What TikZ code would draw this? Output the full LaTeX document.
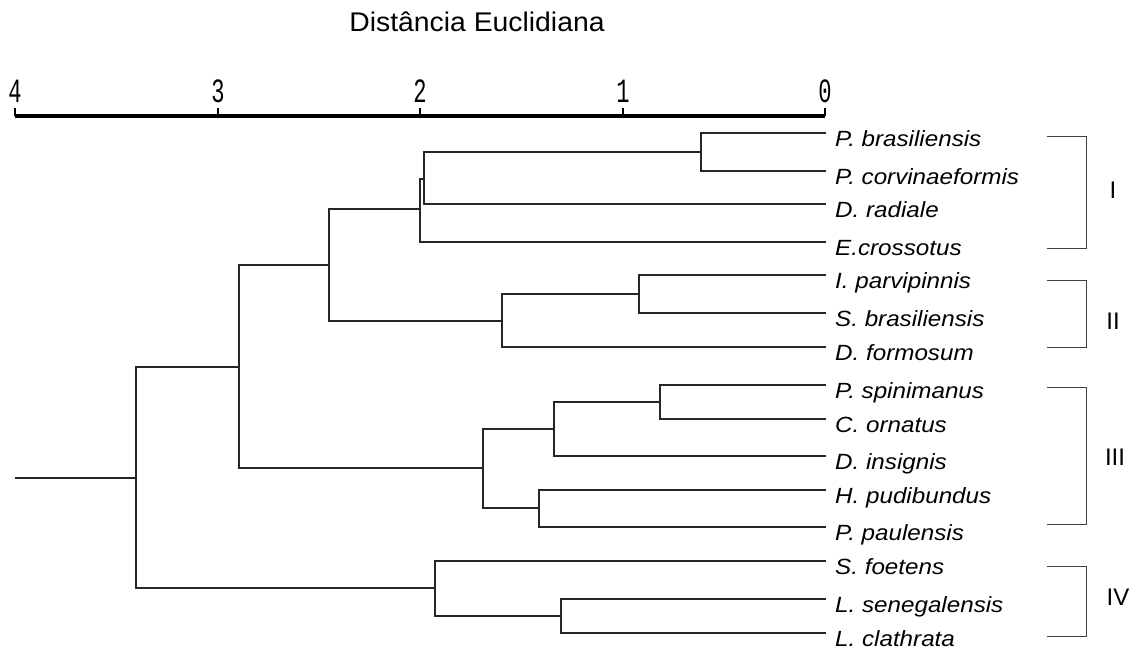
\documentclass[tikz,border=0pt]{standalone}
\usepackage{fontspec}
\usetikzlibrary{calc}
\setmainfont{Liberation Sans}
\newfontfamily\labfont[FakeStretch=1.1]{Liberation Sans}
\newfontfamily\titlefont[FakeStretch=1.05]{Liberation Sans}
\newfontfamily\numfont{Liberation Mono}
\begin{document}
\begin{tikzpicture}[x=1pt,y=-1pt,
  tree/.style={line width=1.4pt, draw=black!85},
  brk/.style={line width=1pt, draw=black!75},
  lab/.style={anchor=base west, inner sep=0pt, font=\labfont\itshape\fontsize{22}{22}\selectfont},
  grp/.style={inner sep=0pt, font=\fontsize{24}{24}\selectfont},
  num/.style={inner sep=0pt, font=\numfont\fontsize{34}{34}\selectfont},
  axtick/.style={line width=1.2pt, draw=black},
  axbar/.style={line width=4.5pt, draw=black}]
\useasboundingbox (0,0) rectangle (1136,649);
\fill[white] (0,0) rectangle (1136,649);

% title
\node[inner sep=0pt, font=\titlefont\fontsize{27}{27}\selectfont] (title) at (477,22) {Distância Euclidiana};

% axis
\coordinate (ax4) at (15,116);
\coordinate (ax3) at (218,116);
\coordinate (ax2) at (420,116);
\coordinate (ax1) at (623,116);
\coordinate (ax0) at (825,116);
\draw[axbar] (ax4) -- (ax0);
\foreach \n in {4,3,2,1,0}{
  \draw[axtick] (ax\n) -- ++(0,-8);
  \node[num] (lab\n) at ($(ax\n)+(0,-25)$) {\scalebox{0.65}[1]{\n}};
}

% leaves
\foreach \i/\y/\t in {1/133/P. brasiliensis, 2/171/P. corvinaeformis, 3/204/D. radiale,
  4/242/E.crossotus, 5/275/I. parvipinnis, 6/313/S. brasiliensis, 7/347/D. formosum,
  8/385/P. spinimanus, 9/419/C. ornatus, 10/456/D. insignis, 11/490/H. pudibundus,
  12/527/P. paulensis, 13/561/S. foetens, 14/599/L. senegalensis, 15/633/L. clathrata}{
  \coordinate (e\i) at (826,\y);
  \node[lab] (n\i) at (835,\y+13.5) {\t};
}

% junctions
\coordinate (root) at (15,478);
\coordinate (A) at (136,478);
\coordinate (B) at (239,367);
\coordinate (E) at (435,588);
\coordinate (C) at (329,265);
\coordinate (D) at (483,468);
\coordinate (C1) at (420,209);
\coordinate (C2) at (424,179);
\coordinate (C3) at (701,152);
\coordinate (II) at (502,321);
\coordinate (II1) at (639,294);
\coordinate (D1) at (554,429);
\coordinate (D2) at (660,402);
\coordinate (D3) at (539,508);
\coordinate (E1) at (561,616);

\draw[tree] (root) -- (A);
\draw[tree] (A) |- (B);   \draw[tree] (A) |- (E);
\draw[tree] (B) |- (C);   \draw[tree] (B) |- (D);
\draw[tree] (C) |- (C1);  \draw[tree] (C) |- (II);
\draw[tree] (C1) |- (C2); \draw[tree] (C1) |- (e4);
\draw[tree] (C2) |- (C3); \draw[tree] (C2) |- (e3);
\draw[tree] (C3) |- (e1); \draw[tree] (C3) |- (e2);
\draw[tree] (II) |- (II1); \draw[tree] (II) |- (e7);
\draw[tree] (II1) |- (e5); \draw[tree] (II1) |- (e6);
\draw[tree] (D) |- (D1);  \draw[tree] (D) |- (D3);
\draw[tree] (D1) |- (D2); \draw[tree] (D1) |- (e10);
\draw[tree] (D2) |- (e8); \draw[tree] (D2) |- (e9);
\draw[tree] (D3) |- (e11); \draw[tree] (D3) |- (e12);
\draw[tree] (E) |- (e13); \draw[tree] (E) |- (E1);
\draw[tree] (E1) |- (e14); \draw[tree] (E1) |- (e15);

% group brackets
\coordinate (gt1) at (1047,136); \coordinate (gb1) at (1047,248);
\coordinate (gt2) at (1047,280); \coordinate (gb2) at (1047,347);
\coordinate (gt3) at (1047,387); \coordinate (gb3) at (1047,524);
\coordinate (gt4) at (1047,566); \coordinate (gb4) at (1047,636);
\foreach \g in {1,2,3,4}{
  \draw[brk] (gt\g) -- ++(39,0) |- (gb\g);
}
\node[grp] (G1) at (1113,190) {I};
\node[grp] (G2) at (1113,321) {II};
\node[grp] (G3) at (1115,457) {III};
\node[grp] (G4) at (1118,597) {IV};
\end{tikzpicture}
\end{document}
